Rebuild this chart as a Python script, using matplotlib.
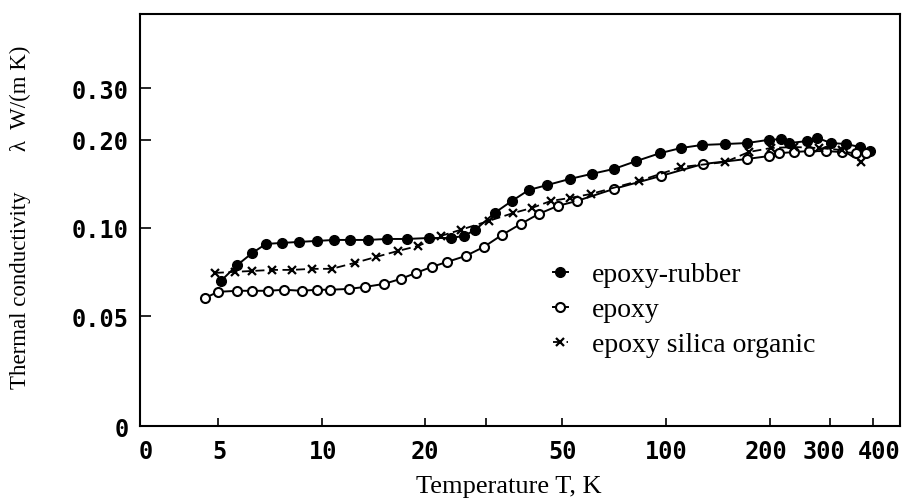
import matplotlib
matplotlib.use("Agg")
import matplotlib.pyplot as plt
from matplotlib.transforms import ScaledTranslation

# epoxy-rubber (filled circles)
T_rubber = [5.1, 5.7, 6.3, 6.9, 7.7, 8.6, 9.7, 10.9, 12.1, 13.6, 15.5, 17.7, 20.5, 23.7,
            25.9, 28.0, 31.8, 35.7, 40.0, 45.1, 52.6, 60.9, 70.6, 81.8, 96.1, 110.6, 127,
            149, 172, 199, 216, 228, 257, 275, 302, 334, 366, 392]
k_rubber = [0.0659, 0.0748, 0.0822, 0.0882, 0.0889, 0.0896, 0.0903, 0.0910, 0.0910, 0.0910,
            0.0917, 0.0917, 0.0924, 0.0924, 0.0939, 0.0986, 0.1125, 0.1236, 0.1348, 0.140,
            0.147, 0.153, 0.159, 0.169, 0.180, 0.1875, 0.192, 0.1935, 0.195, 0.200, 0.201,
            0.195, 0.198, 0.203, 0.195, 0.1935, 0.189, 0.183]

# epoxy (open circles)
T_epoxy = [4.6, 5.0, 5.7, 6.3, 7.0, 7.8, 8.75, 9.7, 10.6, 12.0, 13.4, 15.2, 17.0, 18.8,
           20.9, 23.2, 26.2, 29.6, 33.4, 37.9, 42.7, 48.5, 55.1, 70.6, 96.7, 128, 172, 199,
           213, 236, 260, 292, 325, 357, 381]
k_epoxy = [0.0577, 0.0605, 0.0610, 0.0610, 0.0610, 0.0615, 0.0610, 0.0615, 0.0615, 0.0619,
           0.0629, 0.0644, 0.0670, 0.0702, 0.0736, 0.0766, 0.0802, 0.0861, 0.0946, 0.1032,
           0.1116, 0.1189, 0.1236, 0.1359, 0.1505, 0.1653, 0.172, 0.176, 0.180, 0.1817,
           0.183, 0.183, 0.1817, 0.180, 0.180]

# epoxy silica organic (crosses)
T_silica = [4.9, 5.6, 6.3, 7.2, 8.2, 9.4, 10.7, 12.5, 14.4, 16.7, 19.1, 22.2, 25.4, 30.6,
            36.1, 40.8, 46.3, 52.6, 60.5, 83.5, 111, 149, 174, 202, 236, 278, 325, 369]
k_silica = [0.0702, 0.0708, 0.0713, 0.0719, 0.0719, 0.0725, 0.0725, 0.0760, 0.0796, 0.0835,
            0.0868, 0.0939, 0.0986, 0.1057, 0.1125, 0.1170, 0.1236, 0.1266, 0.1306, 0.1447,
            0.1615, 0.168, 0.1817, 0.1875, 0.189, 0.1875, 0.1846, 0.168]

x_ticks = [2.97, 5, 10, 20, 30, 50, 100, 200, 300, 400]
x_labels = ['0', '5', '10', '20', '', '50', '100', '200', '300', '400']
y_ticks = [0.02106, 0.05, 0.1, 0.2, 0.3]
y_labels = ['0', '0.05', '0.10', '0.20', '0.30']

fig = plt.figure(figsize=(9.06, 5.02), dpi=100)
ax = fig.add_axes([0.1545, 0.1494, 0.839, 0.8207])

ax.plot(T_rubber, k_rubber, '-o', color='black', lw=1.4, ms=7,
        mfc='black', label='epoxy-rubber')
ax.plot(T_epoxy, k_epoxy, '-o', color='black', lw=1.4, ms=6.5,
        mfc='white', mew=1.5, label='epoxy')
ax.plot(T_silica, k_silica, '--x', color='black', lw=1.3, ms=5.5, mew=1.6,
        dashes=(5, 2.5), label='epoxy silica organic')

ax.set_xscale('log')
ax.set_yscale('log')
ax.set_xlim(2.97, 479)
ax.set_ylim(0.02106, 0.538)
ax.minorticks_off()

ax.set_xticks(x_ticks)
ax.set_xticklabels(x_labels)
ax.set_yticks(y_ticks)
ax.set_yticklabels(y_labels)

ax.tick_params(axis='x', direction='in', length=6, width=1.2, pad=9, top=False)
ax.tick_params(axis='y', direction='in', length=8, width=1.2, pad=8, right=False)

for lab in ax.get_xticklabels() + ax.get_yticklabels():
    lab.set_fontweight('bold')
    lab.set_fontsize(17)
    lab.set_family('DejaVu Sans Mono')

# small horizontal shifts of some x labels, as in the original print
x_shift = [6, 2, 2, 0, 0, 0, 0, -4, -6, 6]
for tick, dx in zip(ax.xaxis.get_major_ticks(), x_shift):
    tick.label1.set_transform(tick.label1.get_transform()
                              + ScaledTranslation(dx / 100, 0, fig.dpi_scale_trans))
ax.xaxis.get_major_ticks()[0].tick1line.set_visible(False)
ax.yaxis.get_major_ticks()[0].tick1line.set_visible(False)

for s in ax.spines.values():
    s.set_linewidth(1.5)

ax.set_xlabel('Temperature T, K', family='Liberation Serif', fontsize=19)
ax.xaxis.set_label_coords(0.4855, -0.118)
ax.set_ylabel('Thermal conductivity       \u03bb  W/(m K)', family='Liberation Serif',
              fontsize=16.5)
ax.yaxis.set_label_coords(-0.143, 0.51)

leg = ax.legend(loc='upper left', bbox_to_anchor=(0.5427, 0.398), frameon=False,
                borderaxespad=0, borderpad=0,
                handlelength=0.55, handletextpad=0.86, labelspacing=0.34,
                prop={'family': 'Liberation Serif', 'size': 20})

fig.savefig('out.png', dpi=100)
